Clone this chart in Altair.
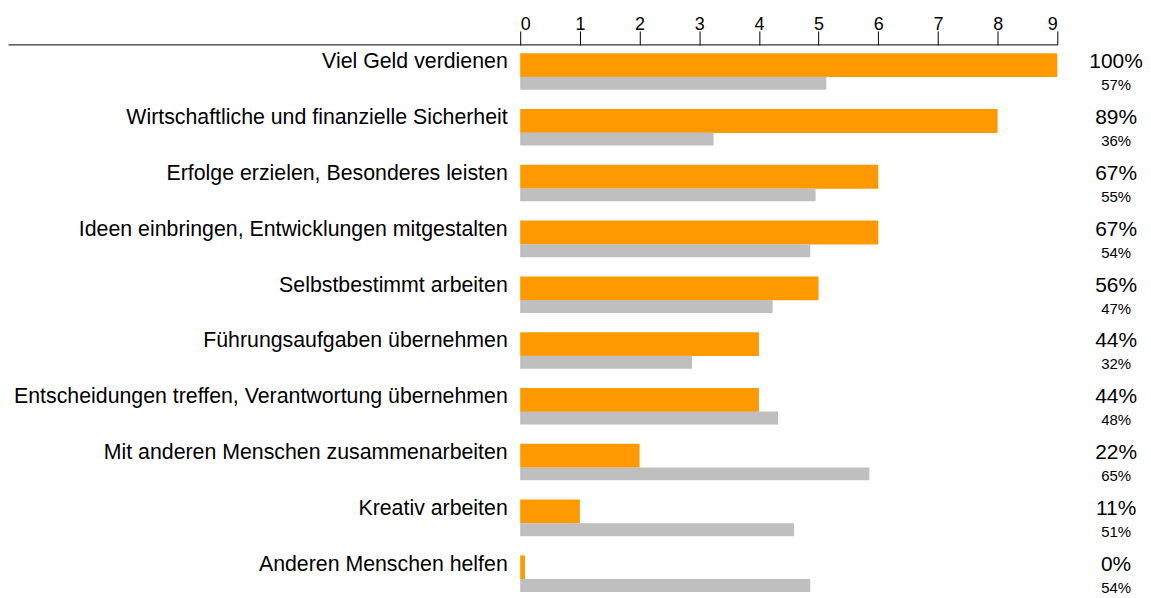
import altair as alt
import pandas as pd

categories = [
    "Viel Geld verdienen",
    "Wirtschaftliche und finanzielle Sicherheit",
    "Erfolge erzielen, Besonderes leisten",
    "Ideen einbringen, Entwicklungen mitgestalten",
    "Selbstbestimmt arbeiten",
    "Führungsaufgaben übernehmen",
    "Entscheidungen treffen, Verantwortung übernehmen",
    "Mit anderen Menschen zusammenarbeiten",
    "Kreativ arbeiten",
    "Anderen Menschen helfen",
]
counts = [9, 8, 6, 6, 5, 4, 4, 2, 1, 0]
pct_main = [100, 89, 67, 67, 56, 44, 44, 22, 11, 0]
pct_ref = [57, 36, 55, 54, 47, 32, 48, 65, 51, 54]
axis_ticks = [0, 1, 2, 3, 4, 5, 6, 7, 8, 9]

df = pd.DataFrame({
    "cat": categories,
    "count": counts,
    "pct_main": pct_main,
    "pct_ref": pct_ref,
})
df["main_label"] = [f"{v}%" for v in pct_main]
df["ref_label"] = [f"{v}%" for v in pct_ref]

FONT = "Liberation Sans"
ORANGE = "#FF9900"
GRAY = "#BFBFBF"

yenc = alt.Y(
    "cat:N",
    sort=categories,
    scale=alt.Scale(paddingInner=0.3, paddingOuter=0),
    axis=alt.Axis(
        title=None, ticks=False, tickSize=0, domain=False, grid=False,
        labelFontSize=21.4, labelFont=FONT, labelColor="#000000",
        labelPadding=13, labelLimit=1000, labelOffset=-2,
    ),
)

xscale = alt.Scale(domain=[0, 9], nice=False, zero=True)

base = alt.Chart(df)

orange = base.transform_calculate(v="max(datum.count, 0.08)").mark_bar(
    color=ORANGE, height=24, yOffset=0.7
).encode(
    x=alt.X(
        "v:Q", scale=xscale,
        axis=alt.Axis(
            orient="top", values=axis_ticks, title=None, domain=False, grid=False,
            ticks=True, tickSize=14, tickColor="#000000", tickWidth=1,
            labelFontSize=18, labelFont=FONT, labelColor="#000000", labelPadding=-3,
            format="d",
        ),
    ),
    y=yenc,
)

gray = base.transform_calculate(g="datum.pct_ref / 100 * 9").mark_bar(
    color=GRAY, height=13, yOffset=18.9
).encode(
    x=alt.X("g:Q", scale=xscale),
    y=yenc,
)

rule = alt.Chart(pd.DataFrame({"a": [0]})).mark_rule(color="#000000", strokeWidth=1).encode(
    x=alt.value(-513.5), x2=alt.value(539), y=alt.value(0)
)

main_txt = base.mark_text(
    fontSize=21, font=FONT, align="center", baseline="middle", yOffset=-2, color="#000000"
).encode(x=alt.value(598), y=yenc, text="main_label:N")

ref_txt = base.mark_text(
    fontSize=15, font=FONT, align="center", baseline="middle", yOffset=21, color="#000000"
).encode(x=alt.value(598), y=yenc, text="ref_label:N")

chart = alt.layer(orange, gray, rule, main_txt, ref_txt).properties(
    width=539, height=543.2,
    padding={"top": 7, "left": 0, "right": 0, "bottom": 0},
).configure_view(stroke=None)

chart.save("out.html", embed_options={"renderer": "svg", "actions": False})
